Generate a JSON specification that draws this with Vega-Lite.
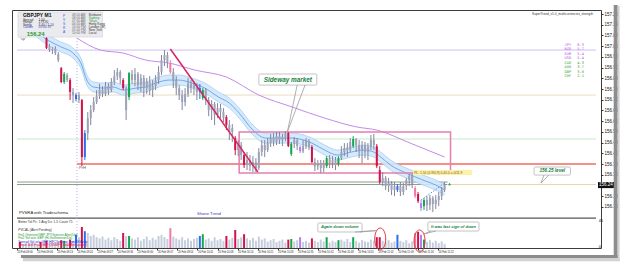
{
"$schema":"https://vega.github.io/schema/vega-lite/v6.json",
"width":589,"height":238,
"autosize":{"type":"none"},
"padding":{"left":12,"top":10,"right":24,"bottom":18},
"background":"#ffffff",
"config":{"view":{"stroke":"#3c3c3c","strokeWidth":1},"font":"Liberation Sans",
"axis":{"labelFont":"Liberation Sans","grid":false,"domain":false,"tickSize":2,"tickColor":"#333333","labelColor":"#111111","labelOverlap":false,"labelFlush":false,"labelBound":false,"labelPadding":1,"titleFontSize":1,"titleColor":"#ffffff"},
"axisX":{"labelFontSize":2.6,"labelAlign":"left","labelBaseline":"top"},
"axisY":{"labelFontSize":4.5,"labelAlign":"left","labelBaseline":"middle"}},
"datasets":{
"candles":[
{"t":1,"o":157.110,"h":157.132,"l":157.099,"c":157.121,"v":10,"k":"r"},
{"t":2,"o":157.121,"h":157.138,"l":157.093,"c":157.104,"v":6,"k":"n"},
{"t":3,"o":157.104,"h":157.127,"l":157.088,"c":157.116,"v":8,"k":"n"},
{"t":4,"o":157.116,"h":157.144,"l":157.099,"c":157.132,"v":5,"k":"n"},
{"t":5,"o":157.132,"h":157.155,"l":157.110,"c":157.121,"v":9,"k":"n"},
{"t":6,"o":157.121,"h":157.138,"l":157.088,"c":157.099,"v":7,"k":"n"},
{"t":7,"o":157.099,"h":157.121,"l":157.082,"c":157.110,"v":6,"k":"n"},
{"t":8,"o":157.110,"h":157.127,"l":157.076,"c":157.088,"v":10,"k":"r"},
{"t":9,"o":157.088,"h":157.104,"l":157.076,"c":157.082,"v":8,"k":"n"},
{"t":10,"o":157.065,"h":157.071,"l":157.004,"c":157.009,"v":12,"k":"r"},
{"t":11,"o":157.020,"h":157.032,"l":156.987,"c":156.998,"v":9,"k":"n"},
{"t":12,"o":156.998,"h":157.015,"l":156.976,"c":157.004,"v":11,"k":"n"},
{"t":13,"o":157.004,"h":157.020,"l":156.970,"c":156.981,"v":8,"k":"n"},
{"t":14,"o":156.976,"h":156.987,"l":156.931,"c":156.942,"v":10,"k":"n"},
{"t":15,"o":156.897,"h":156.903,"l":156.813,"c":156.819,"v":13,"k":"r"},
{"t":16,"o":156.819,"h":156.875,"l":156.808,"c":156.864,"v":12,"k":"g"},
{"t":17,"o":156.858,"h":156.869,"l":156.819,"c":156.830,"v":9,"k":"n"},
{"t":18,"o":156.830,"h":156.841,"l":156.718,"c":156.763,"v":14,"k":"r"},
{"t":19,"o":156.763,"h":156.785,"l":156.701,"c":156.746,"v":12,"k":"n"},
{"t":20,"o":156.724,"h":156.757,"l":156.712,"c":156.746,"v":22,"k":"b"},
{"t":21,"o":156.746,"h":156.763,"l":156.701,"c":156.718,"v":18,"k":"n"},
{"t":22,"o":156.718,"h":156.724,"l":156.348,"c":156.399,"v":35,"k":"r"},
{"t":23,"o":156.399,"h":156.550,"l":156.382,"c":156.533,"v":28,"k":"b"},
{"t":24,"o":156.533,"h":156.651,"l":156.494,"c":156.617,"v":25,"k":"n"},
{"t":25,"o":156.617,"h":156.690,"l":156.578,"c":156.662,"v":20,"k":"n"},
{"t":26,"o":156.662,"h":156.735,"l":156.651,"c":156.707,"v":22,"k":"n"},
{"t":27,"o":156.707,"h":156.774,"l":156.696,"c":156.740,"v":18,"k":"n"},
{"t":28,"o":156.740,"h":156.808,"l":156.724,"c":156.774,"v":16,"k":"n"},
{"t":29,"o":156.774,"h":156.796,"l":156.735,"c":156.752,"v":19,"k":"n"},
{"t":30,"o":156.752,"h":156.819,"l":156.740,"c":156.796,"v":14,"k":"n"},
{"t":31,"o":156.796,"h":156.813,"l":156.746,"c":156.774,"v":17,"k":"n"},
{"t":32,"o":156.774,"h":156.841,"l":156.763,"c":156.819,"v":13,"k":"n"},
{"t":33,"o":156.819,"h":156.886,"l":156.802,"c":156.852,"v":18,"k":"n"},
{"t":34,"o":156.852,"h":156.897,"l":156.830,"c":156.875,"v":15,"k":"n"},
{"t":35,"o":156.875,"h":156.886,"l":156.808,"c":156.841,"v":12,"k":"n"},
{"t":36,"o":156.830,"h":156.841,"l":156.774,"c":156.785,"v":25,"k":"r"},
{"t":37,"o":156.785,"h":156.796,"l":156.606,"c":156.662,"v":20,"k":"n"},
{"t":38,"o":156.735,"h":156.875,"l":156.718,"c":156.869,"v":20,"k":"g"},
{"t":39,"o":156.864,"h":156.886,"l":156.808,"c":156.830,"v":16,"k":"n"},
{"t":40,"o":156.830,"h":156.897,"l":156.796,"c":156.864,"v":14,"k":"n"},
{"t":41,"o":156.864,"h":156.875,"l":156.774,"c":156.802,"v":18,"k":"n"},
{"t":42,"o":156.802,"h":156.864,"l":156.763,"c":156.841,"v":12,"k":"n"},
{"t":43,"o":156.841,"h":156.858,"l":156.735,"c":156.785,"v":15,"k":"n"},
{"t":44,"o":156.785,"h":156.841,"l":156.752,"c":156.819,"v":19,"k":"n"},
{"t":45,"o":156.819,"h":156.852,"l":156.746,"c":156.774,"v":13,"k":"n"},
{"t":46,"o":156.774,"h":156.830,"l":156.735,"c":156.796,"v":17,"k":"n"},
{"t":47,"o":156.796,"h":156.858,"l":156.774,"c":156.830,"v":14,"k":"n"},
{"t":48,"o":156.830,"h":156.908,"l":156.808,"c":156.875,"v":20,"k":"n"},
{"t":49,"o":156.875,"h":156.970,"l":156.858,"c":156.942,"v":22,"k":"n"},
{"t":50,"o":156.942,"h":156.998,"l":156.908,"c":156.970,"v":18,"k":"n"},
{"t":51,"o":156.970,"h":156.987,"l":156.897,"c":156.931,"v":15,"k":"n"},
{"t":52,"o":156.925,"h":156.942,"l":156.864,"c":156.875,"v":33,"k":"p"},
{"t":53,"o":156.875,"h":156.897,"l":156.785,"c":156.830,"v":19,"k":"n"},
{"t":54,"o":156.830,"h":156.852,"l":156.746,"c":156.785,"v":16,"k":"n"},
{"t":55,"o":156.785,"h":156.802,"l":156.718,"c":156.746,"v":14,"k":"n"},
{"t":56,"o":156.746,"h":156.774,"l":156.662,"c":156.707,"v":18,"k":"n"},
{"t":57,"o":156.707,"h":156.785,"l":156.684,"c":156.752,"v":13,"k":"n"},
{"t":58,"o":156.752,"h":156.841,"l":156.735,"c":156.808,"v":16,"k":"n"},
{"t":59,"o":156.808,"h":156.830,"l":156.757,"c":156.785,"v":12,"k":"n"},
{"t":60,"o":156.785,"h":156.819,"l":156.746,"c":156.802,"v":15,"k":"n"},
{"t":61,"o":156.802,"h":156.813,"l":156.718,"c":156.763,"v":17,"k":"n"},
{"t":62,"o":156.763,"h":156.808,"l":156.724,"c":156.785,"v":20,"k":"b"},
{"t":63,"o":156.729,"h":156.785,"l":156.718,"c":156.774,"v":23,"k":"g"},
{"t":64,"o":156.774,"h":156.785,"l":156.690,"c":156.718,"v":14,"k":"n"},
{"t":65,"o":156.718,"h":156.735,"l":156.628,"c":156.662,"v":16,"k":"n"},
{"t":66,"o":156.662,"h":156.718,"l":156.606,"c":156.696,"v":12,"k":"n"},
{"t":67,"o":156.696,"h":156.707,"l":156.578,"c":156.634,"v":18,"k":"n"},
{"t":68,"o":156.634,"h":156.701,"l":156.617,"c":156.673,"v":13,"k":"n"},
{"t":69,"o":156.673,"h":156.696,"l":156.617,"c":156.651,"v":15,"k":"n"},
{"t":70,"o":156.651,"h":156.673,"l":156.595,"c":156.617,"v":12,"k":"n"},
{"t":71,"o":156.623,"h":156.634,"l":156.550,"c":156.578,"v":20,"k":"r"},
{"t":72,"o":156.578,"h":156.606,"l":156.494,"c":156.539,"v":14,"k":"n"},
{"t":73,"o":156.539,"h":156.584,"l":156.483,"c":156.561,"v":17,"k":"n"},
{"t":74,"o":156.505,"h":156.516,"l":156.410,"c":156.438,"v":30,"k":"r"},
{"t":75,"o":156.438,"h":156.494,"l":156.404,"c":156.466,"v":15,"k":"n"},
{"t":76,"o":156.466,"h":156.483,"l":156.382,"c":156.410,"v":18,"k":"n"},
{"t":77,"o":156.410,"h":156.427,"l":156.337,"c":156.354,"v":23,"k":"r"},
{"t":78,"o":156.354,"h":156.427,"l":156.326,"c":156.382,"v":16,"k":"n"},
{"t":79,"o":156.382,"h":156.410,"l":156.320,"c":156.348,"v":13,"k":"n"},
{"t":80,"o":156.348,"h":156.404,"l":156.315,"c":156.371,"v":17,"k":"n"},
{"t":81,"o":156.371,"h":156.393,"l":156.315,"c":156.337,"v":12,"k":"n"},
{"t":82,"o":156.337,"h":156.449,"l":156.326,"c":156.427,"v":19,"k":"n"},
{"t":83,"o":156.427,"h":156.494,"l":156.404,"c":156.466,"v":14,"k":"n"},
{"t":84,"o":156.466,"h":156.494,"l":156.399,"c":156.438,"v":16,"k":"n"},
{"t":85,"o":156.438,"h":156.505,"l":156.427,"c":156.477,"v":11,"k":"n"},
{"t":86,"o":156.477,"h":156.528,"l":156.455,"c":156.505,"v":13,"k":"n"},
{"t":87,"o":156.505,"h":156.533,"l":156.460,"c":156.483,"v":15,"k":"n"},
{"t":88,"o":156.483,"h":156.539,"l":156.466,"c":156.516,"v":10,"k":"n"},
{"t":89,"o":156.516,"h":156.539,"l":156.472,"c":156.494,"v":12,"k":"n"},
{"t":90,"o":156.494,"h":156.528,"l":156.460,"c":156.511,"v":14,"k":"n"},
{"t":91,"o":156.511,"h":156.544,"l":156.488,"c":156.528,"v":9,"k":"n"},
{"t":92,"o":156.533,"h":156.539,"l":156.455,"c":156.460,"v":14,"k":"r"},
{"t":93,"o":156.416,"h":156.483,"l":156.404,"c":156.472,"v":15,"k":"g"},
{"t":94,"o":156.472,"h":156.511,"l":156.449,"c":156.494,"v":11,"k":"n"},
{"t":95,"o":156.494,"h":156.505,"l":156.438,"c":156.460,"v":13,"k":"n"},
{"t":96,"o":156.455,"h":156.466,"l":156.421,"c":156.432,"v":18,"k":"m"},
{"t":97,"o":156.432,"h":156.494,"l":156.421,"c":156.460,"v":10,"k":"n"},
{"t":98,"o":156.460,"h":156.505,"l":156.444,"c":156.488,"v":12,"k":"n"},
{"t":99,"o":156.488,"h":156.500,"l":156.438,"c":156.455,"v":9,"k":"n"},
{"t":100,"o":156.455,"h":156.466,"l":156.365,"c":156.371,"v":16,"k":"r"},
{"t":101,"o":156.371,"h":156.393,"l":156.320,"c":156.348,"v":12,"k":"n"},
{"t":102,"o":156.348,"h":156.382,"l":156.326,"c":156.365,"v":10,"k":"n"},
{"t":103,"o":156.365,"h":156.382,"l":156.309,"c":156.337,"v":14,"k":"n"},
{"t":104,"o":156.337,"h":156.382,"l":156.315,"c":156.360,"v":11,"k":"n"},
{"t":105,"o":156.348,"h":156.404,"l":156.337,"c":156.393,"v":18,"k":"g"},
{"t":106,"o":156.393,"h":156.410,"l":156.337,"c":156.365,"v":9,"k":"n"},
{"t":107,"o":156.365,"h":156.404,"l":156.337,"c":156.382,"v":12,"k":"n"},
{"t":108,"o":156.382,"h":156.399,"l":156.326,"c":156.354,"v":10,"k":"n"},
{"t":109,"o":156.360,"h":156.404,"l":156.348,"c":156.393,"v":13,"k":"g"},
{"t":110,"o":156.393,"h":156.460,"l":156.382,"c":156.427,"v":14,"k":"n"},
{"t":111,"o":156.427,"h":156.477,"l":156.404,"c":156.449,"v":11,"k":"n"},
{"t":112,"o":156.449,"h":156.477,"l":156.399,"c":156.438,"v":15,"k":"n"},
{"t":113,"o":156.438,"h":156.505,"l":156.427,"c":156.483,"v":10,"k":"n"},
{"t":114,"o":156.460,"h":156.516,"l":156.449,"c":156.500,"v":18,"k":"g"},
{"t":115,"o":156.500,"h":156.505,"l":156.427,"c":156.466,"v":12,"k":"n"},
{"t":116,"o":156.466,"h":156.494,"l":156.393,"c":156.438,"v":9,"k":"n"},
{"t":117,"o":156.438,"h":156.488,"l":156.365,"c":156.466,"v":13,"k":"n"},
{"t":118,"o":156.466,"h":156.483,"l":156.393,"c":156.427,"v":11,"k":"n"},
{"t":119,"o":156.427,"h":156.477,"l":156.382,"c":156.455,"v":10,"k":"n"},
{"t":120,"o":156.455,"h":156.522,"l":156.438,"c":156.494,"v":14,"k":"n"},
{"t":121,"o":156.494,"h":156.528,"l":156.438,"c":156.466,"v":12,"k":"n"},
{"t":122,"o":156.460,"h":156.472,"l":156.337,"c":156.348,"v":18,"k":"r"},
{"t":123,"o":156.326,"h":156.348,"l":156.248,"c":156.259,"v":18,"k":"r"},
{"t":124,"o":156.259,"h":156.315,"l":156.236,"c":156.281,"v":12,"k":"n"},
{"t":125,"o":156.281,"h":156.292,"l":156.214,"c":156.236,"v":10,"k":"n"},
{"t":126,"o":156.236,"h":156.281,"l":156.203,"c":156.253,"v":13,"k":"n"},
{"t":127,"o":156.253,"h":156.264,"l":156.186,"c":156.214,"v":9,"k":"n"},
{"t":128,"o":156.214,"h":156.259,"l":156.180,"c":156.236,"v":11,"k":"n"},
{"t":129,"o":156.214,"h":156.248,"l":156.203,"c":156.236,"v":22,"k":"b"},
{"t":130,"o":156.236,"h":156.259,"l":156.180,"c":156.203,"v":12,"k":"n"},
{"t":131,"o":156.203,"h":156.253,"l":156.186,"c":156.236,"v":10,"k":"n"},
{"t":132,"o":156.236,"h":156.281,"l":156.214,"c":156.270,"v":13,"k":"n"},
{"t":133,"o":156.270,"h":156.304,"l":156.236,"c":156.292,"v":8,"k":"n"},
{"t":134,"o":156.292,"h":156.309,"l":156.225,"c":156.248,"v":11,"k":"n"},
{"t":135,"o":156.225,"h":156.236,"l":156.169,"c":156.180,"v":25,"k":"p"},
{"t":136,"o":156.192,"h":156.203,"l":156.141,"c":156.152,"v":27,"k":"r"},
{"t":137,"o":156.141,"h":156.158,"l":156.096,"c":156.113,"v":22,"k":"m"},
{"t":138,"o":156.124,"h":156.169,"l":156.102,"c":156.158,"v":14,"k":"g"},
{"t":139,"o":156.158,"h":156.180,"l":156.096,"c":156.130,"v":10,"k":"n"},
{"t":140,"o":156.130,"h":156.186,"l":156.102,"c":156.169,"v":13,"k":"n"},
{"t":141,"o":156.169,"h":156.180,"l":156.091,"c":156.136,"v":9,"k":"n"},
{"t":142,"o":156.136,"h":156.186,"l":156.108,"c":156.158,"v":12,"k":"n"},
{"t":143,"o":156.158,"h":156.203,"l":156.124,"c":156.180,"v":8,"k":"n"},
{"t":144,"o":156.180,"h":156.231,"l":156.158,"c":156.214,"v":11,"k":"n"},
{"t":145,"o":156.214,"h":156.259,"l":156.203,"c":156.242,"v":7,"k":"n"}
],
"band":[
{"t":6,"m":157.110,"u":157.138,"d":157.082},
{"t":9.33,"m":157.065,"u":157.093,"d":157.037},
{"t":14.33,"m":157.020,"u":157.048,"d":156.992},
{"t":19.33,"m":156.976,"u":157.004,"d":156.948},
{"t":21.67,"m":156.925,"u":156.953,"d":156.897},
{"t":23.67,"m":156.830,"u":156.858,"d":156.802},
{"t":26,"m":156.791,"u":156.819,"d":156.763},
{"t":29.33,"m":156.785,"u":156.813,"d":156.757},
{"t":32.67,"m":156.791,"u":156.819,"d":156.763},
{"t":36,"m":156.774,"u":156.802,"d":156.746},
{"t":40.33,"m":156.785,"u":156.813,"d":156.757},
{"t":43.67,"m":156.791,"u":156.819,"d":156.763},
{"t":47,"m":156.813,"u":156.841,"d":156.785},
{"t":51.67,"m":156.830,"u":156.858,"d":156.802},
{"t":55,"m":156.830,"u":156.858,"d":156.802},
{"t":59.33,"m":156.813,"u":156.841,"d":156.785},
{"t":63.67,"m":156.785,"u":156.813,"d":156.757},
{"t":68.33,"m":156.735,"u":156.763,"d":156.707},
{"t":72,"m":156.701,"u":156.729,"d":156.673},
{"t":75.33,"m":156.645,"u":156.673,"d":156.617},
{"t":80,"m":156.550,"u":156.578,"d":156.522},
{"t":84.33,"m":156.505,"u":156.533,"d":156.477},
{"t":88.67,"m":156.505,"u":156.533,"d":156.477},
{"t":93.33,"m":156.505,"u":156.533,"d":156.477},
{"t":100,"m":156.477,"u":156.505,"d":156.449},
{"t":104.33,"m":156.438,"u":156.466,"d":156.410},
{"t":108.67,"m":156.410,"u":156.438,"d":156.382},
{"t":113.33,"m":156.427,"u":156.455,"d":156.399},
{"t":117.67,"m":156.438,"u":156.466,"d":156.410},
{"t":121,"m":156.427,"u":156.455,"d":156.399},
{"t":123.33,"m":156.399,"u":156.427,"d":156.371},
{"t":126.67,"m":156.354,"u":156.382,"d":156.326},
{"t":132,"m":156.309,"u":156.337,"d":156.281},
{"t":137.67,"m":156.270,"u":156.298,"d":156.242},
{"t":143.33,"m":156.231,"u":156.259,"d":156.203},
{"t":145,"m":156.214,"u":156.242,"d":156.186}
],
"ma":[
{"t":20.33,"p":157.065},{"t":28.33,"p":156.998},{"t":36,"p":156.981},{"t":43.67,"p":156.942},{"t":51.67,"p":156.925},{"t":60.33,"p":156.886},{"t":71,"p":156.847},{"t":82,"p":156.746},{"t":93.33,"p":156.679},{"t":104.33,"p":156.617},{"t":115.33,"p":156.567},{"t":122,"p":156.550},{"t":133.33,"p":156.477},{"t":145,"p":156.399}
],
"hl":[
{"t":0,"t2":196.33,"p":156.998,"kind":"lav"},
{"t":0,"t2":196.33,"p":156.746,"kind":"beige"},
{"t":0,"t2":196.33,"p":156.500,"kind":"green"},
{"t":0,"t2":146,"p":156.259,"kind":"gray"},
{"t":0,"t2":146,"p":156.245,"kind":"gray"},
{"t":146,"t2":196.33,"p":156.245,"kind":"level"},
{"t":0,"t2":196.33,"p":156.057,"kind":"divider"}
],
"red":[{"t":20.33,"t2":196.33,"p":156.36}],
"vline":[{"t":20.33,"p":157.065,"p2":155.889}],
"box":[{"t":75.33,"t2":147,"p":156.539,"p2":156.309}],
"trend":[{"t":52,"p":157.004},{"t":81.67,"p":156.315}],
"dot":[{"t":137,"p":156.158},{"t":145,"p":156.253}],
"pl":[{"t":134.33,"t2":154.33,"p":156.326,"p2":156.298,"pm":156.312,"s":"PL: 1.50 (0.9/0.9) 0.45.0 = 0/11.9"}],
"mk":[{"t":146.67,"p":156.248}],
"callbox":[{"t":82,"t2":101.67,"p":156.864,"p2":156.802},{"t":175.33,"t2":187.67,"p":156.343,"p2":156.298}],
"ptr":[
{"g":"sw","i":0,"t":95,"p":156.802},{"g":"sw","i":1,"t":91.67,"p":156.539},{"g":"sw","i":2,"t":97.67,"p":156.802},
{"g":"lv","i":0,"t":178.67,"p":156.298},{"g":"lv","i":1,"t":177.67,"p":156.253},{"g":"lv","i":2,"t":180.33,"p":156.298}
],
"sideway":[{"t":91.83,"p":156.833,"s":"Sideway market"}],
"level":[{"t":181.5,"p":156.320,"s":"156.25 level"}],
"infobox":[{"t":0.33,"t2":29,"p":157.211,"p2":157.071}],
"info":[
{"t":2,"p":157.169,"s":"Spread","k":"dark"},{"t":7.33,"p":157.169,"s":"1.50","k":"dark"},
{"t":2,"p":157.155,"s":"Range","k":"dark"},{"t":7.33,"p":157.155,"s":"179.30","k":"dark"},
{"t":2,"p":157.141,"s":"Swing","k":"dark"},{"t":7.33,"p":157.141,"s":"3.40 / 1.10","k":"dark"},
{"t":2,"p":157.127,"s":"Candle","k":"blue"},{"t":7.33,"p":157.127,"s":"00:00:39","k":"blue"},
{"t":15.6,"p":157.189,"s":"P","k":"blue"},{"t":15.6,"p":157.166,"s":"V","k":"blue"},{"t":15.6,"p":157.144,"s":"S","k":"blue"},{"t":15.6,"p":157.121,"s":"R","k":"blue"},{"t":15.6,"p":157.099,"s":"A","k":"blue"},
{"t":18.67,"p":157.197,"s":"08:00 AM","k":"gray"},{"t":18.67,"p":157.180,"s":"08:00 AM","k":"gray"},{"t":18.67,"p":157.163,"s":"07:00 AM","k":"gray"},{"t":18.67,"p":157.146,"s":"06:00 AM","k":"gray"},{"t":18.67,"p":157.130,"s":"10:00 PM","k":"gray"},{"t":18.67,"p":157.113,"s":"05:00 PM","k":"gray"},{"t":18.67,"p":157.096,"s":"10:00 PM","k":"gray"},
{"t":24.33,"p":157.197,"s":"Brisbane","k":"dark"},{"t":24.33,"p":157.180,"s":"Sydney","k":"green"},{"t":24.33,"p":157.163,"s":"Tokyo","k":"green"},{"t":24.33,"p":157.146,"s":"Hong Kong","k":"dark"},{"t":24.33,"p":157.130,"s":"London (W)","k":"dark"},{"t":24.33,"p":157.113,"s":"New York","k":"dark"},{"t":24.33,"p":157.096,"s":"Local","k":"dark"}
],
"title":[{"t":2,"p":157.192,"s":"GBPJPY"},{"t":9.33,"p":157.192,"s":"M1"}],
"bigprice":[{"t":3.33,"p":157.086,"s":"156.24"}],
"cur":[
{"t":185.67,"p":157.029,"s":"JPY","g":"hi"},{"t":190,"p":157.029,"s":"6.3","g":"hi"},
{"t":185.67,"p":157.004,"s":"NZD","g":"hi"},{"t":190,"p":157.004,"s":"5.7","g":"hi"},
{"t":185.67,"p":156.978,"s":"EUR","g":"hi"},{"t":190,"p":156.978,"s":"5.4","g":"hi"},
{"t":185.67,"p":156.953,"s":"USD","g":"hi"},{"t":190,"p":156.953,"s":"5.4","g":"hi"},
{"t":185.67,"p":156.928,"s":"CAD","g":"lo"},{"t":190,"p":156.928,"s":"4.3","g":"lo"},
{"t":185.67,"p":156.903,"s":"AUD","g":"lo"},{"t":190,"p":156.903,"s":"3.7","g":"lo"},
{"t":185.67,"p":156.878,"s":"GBP","g":"lo"},{"t":190,"p":156.878,"s":"3.0","g":"lo"},
{"t":185.67,"p":156.852,"s":"CHF","g":"lo"},{"t":190,"p":156.852,"s":"2.1","g":"lo"}
],
"topright":[{"t":195.33,"p":157.200,"s":"SuperTrend_v1.0_multicurrencies_strength"}],
"misc":[
{"t":0.67,"p":156.085,"s":"PVSRA with Tradeschema","k":"dark"},
{"t":61,"p":156.082,"s":"Shane Trend","k":"blue"},
{"t":21,"p":156.337,"s":"PrH","k":"gray"},
{"t":1,"p":157.060,"s":"'sp'","k":"gray"}
],
"blk":[{"t":197,"t2":203.3,"p":156.259,"p2":156.225,"pm":156.242,"s":"156.24"}],
"shadow":[
{"t":202.33,"t2":203.67,"p":157.250,"p2":155.828,"k":"dark"},
{"t":203.67,"t2":204.33,"p":157.245,"p2":155.816,"k":"light"},
{"t":1.33,"t2":203.67,"p":155.850,"p2":155.833,"k":"dark"},
{"t":2,"t2":204.33,"p":155.833,"p2":155.816,"k":"light"}
],
"ell":[{"t":123.17,"v":15},{"t":136.5,"v":11.7}],
"vbox":[{"t":102,"t2":117,"v":41.67,"v2":26.67},{"t":139.33,"t2":156.67,"v":43.33,"v2":28.33}],
"vptr":[
{"g":"a","i":0,"t":114.67,"v":26.67},{"g":"a","i":1,"t":121.67,"v":29},{"g":"a","i":2,"t":116.33,"v":26.67},
{"g":"b","i":0,"t":140.33,"v":28.33},{"g":"b","i":1,"t":138,"v":23.3},{"g":"b","i":2,"t":142,"v":28.33}
],
"vtxt":[{"t":109.5,"v":34.2,"s":"Again down volume"},{"t":148,"v":35.8,"s":"It was last sign of down"}],
"vinfo":[
{"t":0.4,"v":43.3,"s":"Better Tol Pc: 1     Avg Dv: 1.5     Count 75","k":"dark"},
{"t":0.4,"v":29.2,"s":"PVCAL (Alert Pending)","k":"dark"},
{"t":0.4,"v":22.5,"s":"Fix1 (Intense/GBP JPY/Intense Alert/Up)","k":"green"},
{"t":0.4,"v":16.7,"s":"Fix2 Vol w/o GBP (Hi Vol/Intense/Up)","k":"green"},
{"t":0.4,"v":10.8,"s":"Spread Vol w/o GBP HPC/Intense Spn/Ml/Ande","k":"blue"},
{"t":0.4,"v":5,"s":"Smart Bull Fix1 GBP (3/NMF Ofbal/Anticipated)","k":"red"}
],
"vaxis":[{"t":197.3,"v":45,"s":"45"},{"t":197.3,"v":1.5,"s":"0"}]
},
"resolve":{"scale":{"y":"independent","color":"independent"}},
"layer":[
{"resolve":{"scale":{"color":"independent"}},
"layer":[
{"data":{"name":"candles"},"mark":{"type":"point","opacity":0},
"encoding":{"x":{"field":"t","type":"quantitative","scale":{"domain":[0,196.33],"nice":false,"zero":false},
"axis":{"values":[0,6.8,13.6,20.4,27.2,34,40.8,47.6,54.4,61.2,68,74.8,81.6,88.4,95.2,102,108.8,115.6,122.4,129.2,136,142.8],"tickCount":200,"labelExpr":"'20 Feb ' + timeFormat(datetime(2016,1,20,9,floor(datum.value)),'%H:%M')","labelFontSize":2.6,"labelAlign":"left","labelBaseline":"top","labelPadding":1,"tickSize":2,"tickColor":"#333333","domain":false,"grid":false,"title":null,"labelOverlap":false,"labelFlush":false,"labelBound":false,"labelColor":"#222222"}},
"y":{"field":"c","type":"quantitative","scale":{"domain":[155.8896,157.2224],"nice":false,"zero":false},
"axis":{"orient":"right","values":[157.2,157.14,157.08,157.02,156.96,156.9,156.84,156.78,156.72,156.66,156.6,156.54,156.48,156.42,156.36,156.3,156.18,156.12],"tickCount":200,"format":".2f","labelFontSize":4.5,"tickSize":2,"tickColor":"#333333","domain":false,"grid":false,"title":null,"labelPadding":1,"labelColor":"#111111","labelOverlap":false,"labelFlush":false,"labelBound":false}}}},
{"data":{"name":"hl"},"mark":{"type":"rule","strokeWidth":1},
"encoding":{"x":{"field":"t","type":"quantitative","scale":{"domain":[0,196.33],"nice":false,"zero":false}},"x2":{"field":"t2"},
"y":{"field":"p","type":"quantitative","scale":{"domain":[155.8896,157.2224],"nice":false,"zero":false}},
"color":{"field":"kind","type":"nominal","scale":{"domain":["lav","beige","green","gray","level","divider"],"range":["#cbc2f2","#eadcc0","#c9eac9","#8d998d","#e6d6ad","#2a2a2a"]},"legend":null}}},
{"data":{"name":"red"},"mark":{"type":"rule","strokeWidth":1.6,"color":"#f06a62"},
"encoding":{"x":{"field":"t","type":"quantitative","scale":{"domain":[0,196.33],"nice":false,"zero":false}},"x2":{"field":"t2"},
"y":{"field":"p","type":"quantitative","scale":{"domain":[155.8896,157.2224],"nice":false,"zero":false}}}},
{"data":{"name":"vline"},"mark":{"type":"rule","strokeWidth":1,"color":"#b9a3e8","strokeDash":[1,2]},
"encoding":{"x":{"field":"t","type":"quantitative","scale":{"domain":[0,196.33],"nice":false,"zero":false}},
"y":{"field":"p","type":"quantitative","scale":{"domain":[155.8896,157.2224],"nice":false,"zero":false}},"y2":{"field":"p2"}}},
{"data":{"name":"band"},"mark":{"type":"area","color":"#d3e7fb","opacity":0.9,"interpolate":"monotone"},
"encoding":{"x":{"field":"t","type":"quantitative","scale":{"domain":[0,196.33],"nice":false,"zero":false}},
"y":{"field":"u","type":"quantitative","scale":{"domain":[155.8896,157.2224],"nice":false,"zero":false}},"y2":{"field":"d"}}},
{"data":{"name":"band"},"mark":{"type":"line","color":"#a3cff4","strokeWidth":0.8,"interpolate":"monotone"},
"encoding":{"x":{"field":"t","type":"quantitative","scale":{"domain":[0,196.33],"nice":false,"zero":false}},
"y":{"field":"u","type":"quantitative","scale":{"domain":[155.8896,157.2224],"nice":false,"zero":false}}}},
{"data":{"name":"band"},"mark":{"type":"line","color":"#a3cff4","strokeWidth":0.8,"interpolate":"monotone"},
"encoding":{"x":{"field":"t","type":"quantitative","scale":{"domain":[0,196.33],"nice":false,"zero":false}},
"y":{"field":"d","type":"quantitative","scale":{"domain":[155.8896,157.2224],"nice":false,"zero":false}}}},
{"data":{"name":"band"},"mark":{"type":"line","color":"#4f9be8","strokeWidth":0.8,"interpolate":"monotone"},
"encoding":{"x":{"field":"t","type":"quantitative","scale":{"domain":[0,196.33],"nice":false,"zero":false}},
"y":{"field":"m","type":"quantitative","scale":{"domain":[155.8896,157.2224],"nice":false,"zero":false}}}},
{"data":{"name":"ma"},"mark":{"type":"line","color":"#c48be8","strokeWidth":1,"interpolate":"monotone"},
"encoding":{"x":{"field":"t","type":"quantitative","scale":{"domain":[0,196.33],"nice":false,"zero":false}},
"y":{"field":"p","type":"quantitative","scale":{"domain":[155.8896,157.2224],"nice":false,"zero":false}}}},
{"data":{"name":"box"},"mark":{"type":"rect","fillOpacity":0,"stroke":"#e47fae","strokeWidth":1.5},
"encoding":{"x":{"field":"t","type":"quantitative","scale":{"domain":[0,196.33],"nice":false,"zero":false}},"x2":{"field":"t2"},
"y":{"field":"p","type":"quantitative","scale":{"domain":[155.8896,157.2224],"nice":false,"zero":false}},"y2":{"field":"p2"}}},
{"data":{"name":"candles"},"mark":{"type":"rule","strokeWidth":1},
"encoding":{"x":{"field":"t","type":"quantitative","scale":{"domain":[0,196.33],"nice":false,"zero":false}},
"y":{"field":"h","type":"quantitative","scale":{"domain":[155.8896,157.2224],"nice":false,"zero":false}},"y2":{"field":"l"},
"color":{"field":"k","type":"nominal","scale":{"domain":["n","r","g","b","p","m"],"range":["#80869e","#d3124a","#11a650","#2f6ee8","#f07aa6","#b77cf0"]},"legend":null}}},
{"data":{"name":"candles"},"mark":{"type":"bar","width":2},
"encoding":{"x":{"field":"t","type":"quantitative","scale":{"domain":[0,196.33],"nice":false,"zero":false}},
"y":{"field":"o","type":"quantitative","scale":{"domain":[155.8896,157.2224],"nice":false,"zero":false}},
"y2":{"field":"c"},
"color":{"field":"k","type":"nominal","scale":{"domain":["n","r","g","b","p","m"],"range":["#9da2b6","#d3124a","#11a650","#2f6ee8","#f07aa6","#b77cf0"]},"legend":null}}},
{"data":{"name":"trend"},"mark":{"type":"line","color":"#d6245e","strokeWidth":1.5},
"encoding":{"x":{"field":"t","type":"quantitative","scale":{"domain":[0,196.33],"nice":false,"zero":false}},
"y":{"field":"p","type":"quantitative","scale":{"domain":[155.8896,157.2224],"nice":false,"zero":false}}}},
{"data":{"name":"dot"},"mark":{"type":"line","color":"#4d92e0","strokeWidth":1,"strokeDash":[1.5,1.5]},
"encoding":{"x":{"field":"t","type":"quantitative","scale":{"domain":[0,196.33],"nice":false,"zero":false}},
"y":{"field":"p","type":"quantitative","scale":{"domain":[155.8896,157.2224],"nice":false,"zero":false}}}},
{"data":{"name":"pl"},"mark":{"type":"rect","color":"#fff1a8"},
"encoding":{"x":{"field":"t","type":"quantitative","scale":{"domain":[0,196.33],"nice":false,"zero":false}},"x2":{"field":"t2"},
"y":{"field":"p","type":"quantitative","scale":{"domain":[155.8896,157.2224],"nice":false,"zero":false}},"y2":{"field":"p2"}}},
{"data":{"name":"pl"},"mark":{"type":"text","fontSize":3.3,"align":"left","baseline":"middle","dx":1,"color":"#6a5a10"},
"encoding":{"x":{"field":"t","type":"quantitative","scale":{"domain":[0,196.33],"nice":false,"zero":false}},
"y":{"field":"pm","type":"quantitative","scale":{"domain":[155.8896,157.2224],"nice":false,"zero":false}},"text":{"field":"s"}}},
{"data":{"name":"mk"},"mark":{"type":"point","shape":"triangle-up","filled":true,"size":8,"color":"#1ea345","opacity":1},
"encoding":{"x":{"field":"t","type":"quantitative","scale":{"domain":[0,196.33],"nice":false,"zero":false}},
"y":{"field":"p","type":"quantitative","scale":{"domain":[155.8896,157.2224],"nice":false,"zero":false}}}},
{"data":{"name":"callbox"},"mark":{"type":"rect","fill":"#ffffff","stroke":"#b5b5b5","strokeWidth":0.8,"cornerRadius":1},
"encoding":{"x":{"field":"t","type":"quantitative","scale":{"domain":[0,196.33],"nice":false,"zero":false}},"x2":{"field":"t2"},
"y":{"field":"p","type":"quantitative","scale":{"domain":[155.8896,157.2224],"nice":false,"zero":false}},"y2":{"field":"p2"}}},
{"data":{"name":"ptr"},"mark":{"type":"line","color":"#9c9c9c","strokeWidth":0.8},
"encoding":{"x":{"field":"t","type":"quantitative","scale":{"domain":[0,196.33],"nice":false,"zero":false}},
"y":{"field":"p","type":"quantitative","scale":{"domain":[155.8896,157.2224],"nice":false,"zero":false}},
"order":{"field":"i","type":"quantitative"},"detail":{"field":"g","type":"nominal"}}},
{"data":{"name":"sideway"},"mark":{"type":"text","fontSize":6.4,"fontWeight":"bold","fontStyle":"italic","align":"center","baseline":"middle","color":"#15823a"},
"encoding":{"x":{"field":"t","type":"quantitative","scale":{"domain":[0,196.33],"nice":false,"zero":false}},
"y":{"field":"p","type":"quantitative","scale":{"domain":[155.8896,157.2224],"nice":false,"zero":false}},"text":{"field":"s"}}},
{"data":{"name":"level"},"mark":{"type":"text","fontSize":4.6,"fontWeight":"bold","fontStyle":"italic","align":"center","baseline":"middle","color":"#15823a"},
"encoding":{"x":{"field":"t","type":"quantitative","scale":{"domain":[0,196.33],"nice":false,"zero":false}},
"y":{"field":"p","type":"quantitative","scale":{"domain":[155.8896,157.2224],"nice":false,"zero":false}},"text":{"field":"s"}}},
{"data":{"name":"infobox"},"mark":{"type":"rect","fill":"#ebebef","stroke":"#d2d2d8","strokeWidth":0.6},
"encoding":{"x":{"field":"t","type":"quantitative","scale":{"domain":[0,196.33],"nice":false,"zero":false}},"x2":{"field":"t2"},
"y":{"field":"p","type":"quantitative","scale":{"domain":[155.8896,157.2224],"nice":false,"zero":false}},"y2":{"field":"p2"}}},
{"data":{"name":"info"},"mark":{"type":"text","fontSize":3.2,"align":"left","baseline":"middle"},
"encoding":{"x":{"field":"t","type":"quantitative","scale":{"domain":[0,196.33],"nice":false,"zero":false}},
"y":{"field":"p","type":"quantitative","scale":{"domain":[155.8896,157.2224],"nice":false,"zero":false}},"text":{"field":"s"},
"color":{"field":"k","type":"nominal","scale":{"domain":["dark","blue","gray","green"],"range":["#333333","#2a4fd6","#666666","#1f9a3a"]},"legend":null}}},
{"data":{"name":"title"},"mark":{"type":"text","fontSize":5,"fontWeight":"bold","align":"left","baseline":"middle","color":"#111111"},
"encoding":{"x":{"field":"t","type":"quantitative","scale":{"domain":[0,196.33],"nice":false,"zero":false}},
"y":{"field":"p","type":"quantitative","scale":{"domain":[155.8896,157.2224],"nice":false,"zero":false}},"text":{"field":"s"}}},
{"data":{"name":"bigprice"},"mark":{"type":"text","fontSize":5.8,"fontWeight":"bold","align":"left","baseline":"middle","color":"#1e9a2e"},
"encoding":{"x":{"field":"t","type":"quantitative","scale":{"domain":[0,196.33],"nice":false,"zero":false}},
"y":{"field":"p","type":"quantitative","scale":{"domain":[155.8896,157.2224],"nice":false,"zero":false}},"text":{"field":"s"}}},
{"data":{"name":"cur"},"mark":{"type":"text","fontSize":3.6,"font":"DejaVu Sans Mono","align":"left","baseline":"middle"},
"encoding":{"x":{"field":"t","type":"quantitative","scale":{"domain":[0,196.33],"nice":false,"zero":false}},
"y":{"field":"p","type":"quantitative","scale":{"domain":[155.8896,157.2224],"nice":false,"zero":false}},"text":{"field":"s"},
"color":{"field":"g","type":"nominal","scale":{"domain":["hi","lo"],"range":["#b050e0","#2f9e2f"]},"legend":null}}},
{"data":{"name":"topright"},"mark":{"type":"text","fontSize":3.2,"align":"right","baseline":"middle","color":"#333333"},
"encoding":{"x":{"field":"t","type":"quantitative","scale":{"domain":[0,196.33],"nice":false,"zero":false}},
"y":{"field":"p","type":"quantitative","scale":{"domain":[155.8896,157.2224],"nice":false,"zero":false}},"text":{"field":"s"}}},
{"data":{"name":"misc"},"mark":{"type":"text","fontSize":4.2,"align":"left","baseline":"middle"},
"encoding":{"x":{"field":"t","type":"quantitative","scale":{"domain":[0,196.33],"nice":false,"zero":false}},
"y":{"field":"p","type":"quantitative","scale":{"domain":[155.8896,157.2224],"nice":false,"zero":false}},"text":{"field":"s"},
"color":{"field":"k","type":"nominal","scale":{"domain":["dark","blue","gray"],"range":["#222222","#3535c8","#666666"]},"legend":null}}},
{"data":{"name":"blk"},"mark":{"type":"rect","color":"#111111"},
"encoding":{"x":{"field":"t","type":"quantitative","scale":{"domain":[0,196.33],"nice":false,"zero":false}},"x2":{"field":"t2"},
"y":{"field":"p","type":"quantitative","scale":{"domain":[155.8896,157.2224],"nice":false,"zero":false}},"y2":{"field":"p2"}}},
{"data":{"name":"blk"},"mark":{"type":"text","fontSize":4.5,"align":"left","baseline":"middle","dx":1,"color":"#ffffff"},
"encoding":{"x":{"field":"t","type":"quantitative","scale":{"domain":[0,196.33],"nice":false,"zero":false}},
"y":{"field":"pm","type":"quantitative","scale":{"domain":[155.8896,157.2224],"nice":false,"zero":false}},"text":{"field":"s"}}},
{"data":{"name":"shadow"},"mark":{"type":"rect"},
"encoding":{"x":{"field":"t","type":"quantitative","scale":{"domain":[0,196.33],"nice":false,"zero":false}},"x2":{"field":"t2"},
"y":{"field":"p","type":"quantitative","scale":{"domain":[155.8896,157.2224],"nice":false,"zero":false}},"y2":{"field":"p2"},
"color":{"field":"k","type":"nominal","scale":{"domain":["dark","light"],"range":["#8d8d8d","#d2d2d2"]},"legend":null}}}
]},
{"resolve":{"scale":{"color":"independent"}},
"layer":[
{"data":{"name":"candles"},"mark":{"type":"bar","width":2},
"encoding":{"x":{"field":"t","type":"quantitative","scale":{"domain":[0,196.33],"nice":false,"zero":false}},
"y":{"field":"v","type":"quantitative","scale":{"domain":[0,396.67],"nice":false,"zero":false},"axis":null},
"color":{"field":"k","type":"nominal","scale":{"domain":["n","r","g","b","p","m"],"range":["#c6cddc","#d3124a","#11a650","#2f6ee8","#f07aa6","#b77cf0"]},"legend":null}}},
{"data":{"name":"ell"},"mark":{"type":"point","shape":"M-0.5,0A0.5,1,0,1,1,0.5,0A0.5,1,0,1,1,-0.5,0Z","size":484,"filled":false,"color":"#e0383f","strokeWidth":1,"opacity":1},
"encoding":{"x":{"field":"t","type":"quantitative","scale":{"domain":[0,196.33],"nice":false,"zero":false}},
"y":{"field":"v","type":"quantitative","scale":{"domain":[0,396.67],"nice":false,"zero":false},"axis":null}}},
{"data":{"name":"vbox"},"mark":{"type":"rect","fill":"#ffffff","stroke":"#b5b5b5","strokeWidth":0.8,"cornerRadius":1},
"encoding":{"x":{"field":"t","type":"quantitative","scale":{"domain":[0,196.33],"nice":false,"zero":false}},"x2":{"field":"t2"},
"y":{"field":"v","type":"quantitative","scale":{"domain":[0,396.67],"nice":false,"zero":false},"axis":null},"y2":{"field":"v2"}}},
{"data":{"name":"vptr"},"mark":{"type":"line","color":"#9c9c9c","strokeWidth":0.8},
"encoding":{"x":{"field":"t","type":"quantitative","scale":{"domain":[0,196.33],"nice":false,"zero":false}},
"y":{"field":"v","type":"quantitative","scale":{"domain":[0,396.67],"nice":false,"zero":false},"axis":null},
"order":{"field":"i","type":"quantitative"},"detail":{"field":"g","type":"nominal"}}},
{"data":{"name":"vtxt"},"mark":{"type":"text","fontSize":4,"fontWeight":"bold","fontStyle":"italic","align":"center","baseline":"middle","color":"#15823a"},
"encoding":{"x":{"field":"t","type":"quantitative","scale":{"domain":[0,196.33],"nice":false,"zero":false}},
"y":{"field":"v","type":"quantitative","scale":{"domain":[0,396.67],"nice":false,"zero":false},"axis":null},"text":{"field":"s"}}},
{"data":{"name":"vinfo"},"mark":{"type":"text","fontSize":3.3,"align":"left","baseline":"middle"},
"encoding":{"x":{"field":"t","type":"quantitative","scale":{"domain":[0,196.33],"nice":false,"zero":false}},
"y":{"field":"v","type":"quantitative","scale":{"domain":[0,396.67],"nice":false,"zero":false},"axis":null},"text":{"field":"s"},
"color":{"field":"k","type":"nominal","scale":{"domain":["dark","green","blue","red"],"range":["#333333","#1e9a34","#2233dd","#e01a3c"]},"legend":null}}},
{"data":{"name":"vaxis"},"mark":{"type":"text","fontSize":3.8,"align":"left","baseline":"middle","color":"#111111"},
"encoding":{"x":{"field":"t","type":"quantitative","scale":{"domain":[0,196.33],"nice":false,"zero":false}},
"y":{"field":"v","type":"quantitative","scale":{"domain":[0,396.67],"nice":false,"zero":false},"axis":null},"text":{"field":"s"}}}
]}
]
}
